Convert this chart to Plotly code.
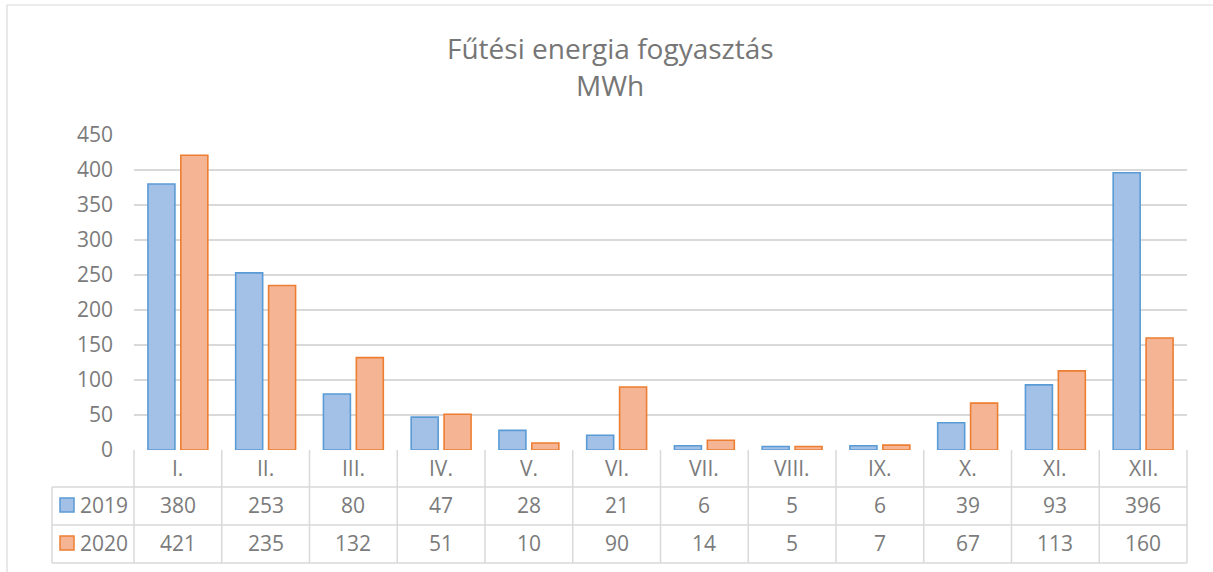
import plotly.graph_objects as go

months = ["I.", "II.", "III.", "IV.", "V.", "VI.", "VII.", "VIII.", "IX.", "X.", "XI.", "XII."]
series_names = ["2019", "2020"]
values_2019 = [380, 253, 80, 47, 28, 21, 6, 5, 6, 39, 93, 396]
values_2020 = [421, 235, 132, 51, 10, 90, 14, 5, 7, 67, 113, 160]
y_ticks = [0, 50, 100, 150, 200, 250, 300, 350, 400, 450]
title_line1 = "Fűtési energia fogyasztás"
title_line2 = "MWh"

FONT = "Open Sans"
TXT = "#7b7b7b"
GRID = "#d9d9d9"
fills = ["#a3c1e7", "#f5b595"]
lines = ["#5b9bd5", "#ed7d31"]

W, H = 1213, 572
L, R, T, B = 134, 26, 135, 122
PW, PH = W - L - R, H - T - B

def py(p):  # pixel y -> paper y
    return (H - B - p) / PH

def px(p):  # pixel x -> paper x
    return (p - L) / PW

fig = go.Figure()
for name, vals, fc, lc in zip(series_names, [values_2019, values_2020], fills, lines):
    fig.add_trace(go.Bar(x=months, y=vals, name=name,
                         marker=dict(color=fc, line=dict(color=lc, width=1.6)),
                         showlegend=False, hoverinfo="skip"))

shapes = []
# outer chart border
shapes.append(dict(type="rect", xref="paper", yref="paper",
                   x0=px(7), x1=px(W + 20), y0=py(H + 20), y1=py(5),
                   line=dict(color=GRID, width=1.2), fillcolor="rgba(0,0,0,0)", layer="below"))
row_lines = [487, 525, 563]
# horizontal table lines
for r in row_lines:
    shapes.append(dict(type="line", xref="paper", yref="paper", x0=px(52), x1=1,
                       y0=py(r), y1=py(r), line=dict(color=GRID, width=1.5)))
# vertical table lines
n = len(months)
for i in range(n + 1):
    shapes.append(dict(type="line", xref="paper", yref="paper", x0=i / n, x1=i / n,
                       y0=0, y1=py(row_lines[-1]), line=dict(color=GRID, width=1.5)))
shapes.append(dict(type="line", xref="paper", yref="paper", x0=px(52), x1=px(52),
                   y0=py(row_lines[0]), y1=py(row_lines[-1]), line=dict(color=GRID, width=1.5)))

annotations = []
fs = 21
for i, m in enumerate(months):
    annotations.append(dict(x=(i + 0.5) / n, y=py(468), xref="paper", yref="paper", text=m,
                            showarrow=False, font=dict(family=FONT, size=fs, color=TXT),
                            xanchor="center", yanchor="middle"))
row_centers = [505, 543]
for rc, name, vals, fc, lc in zip(row_centers, series_names, [values_2019, values_2020], fills, lines):
    for i, v in enumerate(vals):
        annotations.append(dict(x=(i + 0.5) / n, y=py(rc), xref="paper", yref="paper", text=str(v),
                                showarrow=False, font=dict(family=FONT, size=fs, color=TXT),
                                xanchor="center", yanchor="middle"))
    shapes.append(dict(type="rect", xref="paper", yref="paper", x0=px(60), x1=px(74),
                       y0=py(rc + 7), y1=py(rc - 7), fillcolor=fc, line=dict(color=lc, width=1.5)))
    annotations.append(dict(x=px(78), y=py(rc), xref="paper", yref="paper", text=name,
                            showarrow=False, font=dict(family=FONT, size=fs, color=TXT),
                            xanchor="left", yanchor="middle"))

annotations.append(dict(x=px(610), y=py(48), xref="paper", yref="paper", text=title_line1,
                        showarrow=False, font=dict(family=FONT, size=28, color="#767676"),
                        xanchor="center", yanchor="middle"))
annotations.append(dict(x=px(610), y=py(85), xref="paper", yref="paper", text=title_line2,
                        showarrow=False, font=dict(family=FONT, size=28, color="#767676"),
                        xanchor="center", yanchor="middle"))

fig.update_layout(
    width=W, height=H,
    margin=dict(l=L, r=R, t=T, b=B, pad=0),
    paper_bgcolor="white", plot_bgcolor="white",
    barmode="group", bargap=0.25, bargroupgap=0.18,
    shapes=shapes, annotations=annotations,
    xaxis=dict(range=[-0.5, n - 0.5], showticklabels=False, showgrid=False,
               showline=False, zeroline=False, ticks=""),
    yaxis=dict(range=[0, 450], tickvals=y_ticks, showgrid=True, gridcolor=GRID, gridwidth=1.5,
               zeroline=False, showline=False, ticks="",
               tickfont=dict(family=FONT, size=fs, color=TXT), ticklabelstandoff=20),
)

fig.write_html("out.html", config={"displayModeBar": False},
               post_script="document.body.style.margin='0';document.body.style.overflow='hidden';")
